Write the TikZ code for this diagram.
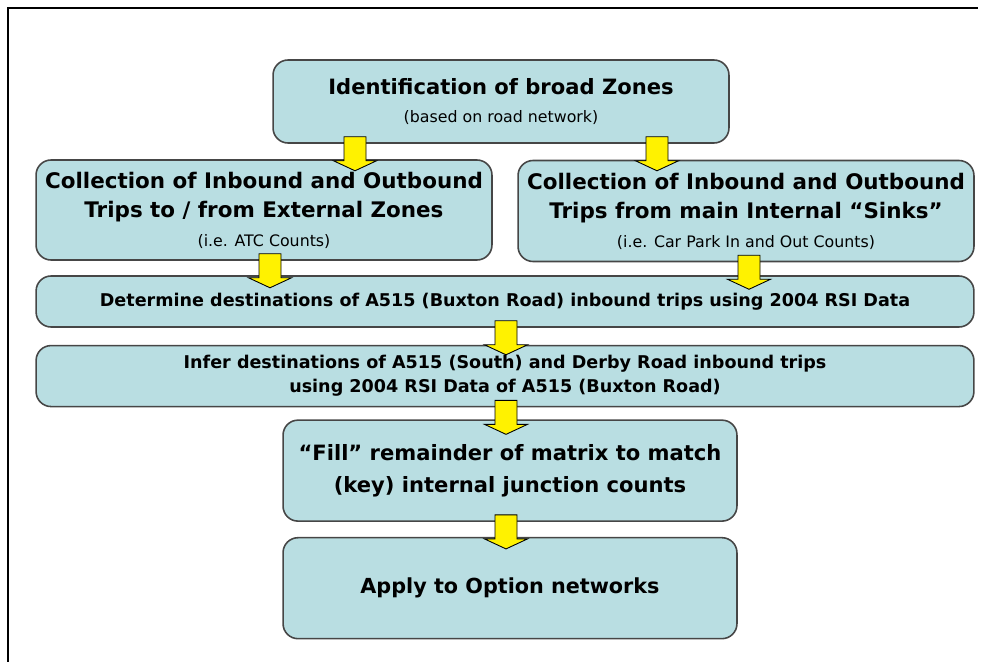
\documentclass[tikz,border=0pt]{standalone}
\usepackage{fontspec}
\setmainfont{DejaVu Sans}
\usetikzlibrary{calc, positioning}
\definecolor{boxfill}{RGB}{185,222,226}
\definecolor{boxline}{RGB}{70,70,70}
\tikzstyle{stage} = [rectangle, draw=boxline, line width=0.9pt, fill=boxfill, rounded corners=0.3cm, text centered, align=center, inner sep=2pt, font=\bfseries\fontsize{12.2}{16.5}\selectfont]
\tikzstyle{half} = [stage, minimum width=9.12cm, minimum height=2.02cm]
\tikzstyle{wide} = [stage, minimum width=18.76cm, font=\bfseries\fontsize{10}{13.5}\selectfont]
\tikzstyle{flow} = [draw=black, line width=0.5pt, fill=yellow]
\newcommand{\note}[1]{{\normalfont\fontsize{9}{11}\selectfont #1}}
% block arrow hanging under a box, shifted sideways by #2 px
\newcommand{\flowarrow}[2]{%
  \path[flow] ($(#1.south)+(#2,0)$) ++(-11,-7) -- ++(0,24) -- ++(-10.5,0) -- ++(21.5,10) -- ++(21.5,-10) -- ++(-10.5,0) -- ++(0,-24) -- cycle;}

\begin{document}
\begin{tikzpicture}[x=0.02cm, y=-0.02cm]
        \useasboundingbox (0,0) rectangle (987,662);
        \draw[line width=1.2pt] (8,662) -- (8,8) -- (978,8);

        \node[half, minimum height=1.66cm, font=\bfseries\fontsize{12}{16}\selectfont] (zones) at (501,101.5) {Identification of broad Zones\\\note{(based on road network)}};

        \node[half, minimum height=2cm] (extin) at (264,210) {Collection of Inbound and Outbound\\Trips to / from External Zones\\\note{(i.e. ATC Counts)}};

        \node[half] (sinks) at (746,211) {Collection of Inbound and Outbound\\Trips from main Internal ``Sinks''\\\note{(i.e. Car Park In and Out Counts)}};

        \node[wide, minimum height=1.02cm] (buxton) at (505,301.5) {Determine destinations of A515 (Buxton Road) inbound trips using 2004 RSI Data};

        \node[wide, minimum height=1.22cm, below=0.34cm of buxton] (infer) {Infer destinations of A515 (South) and Derby Road inbound trips\\using 2004 RSI Data of A515 (Buxton Road)};

        \node[half, minimum width=9.08cm, below=0.24cm of infer, xshift=0.1cm, font=\bfseries\fontsize{12}{18}\selectfont] (fill) {``Fill'' remainder of matrix to match\\(key) internal junction counts};

        \node[half, minimum width=9.08cm, below=0.3cm of fill, font=\bfseries\fontsize{11.8}{16}\selectfont] (apply) {Apply to Option networks};

        \flowarrow{zones}{-146}
        \flowarrow{zones}{156}
        \flowarrow{extin}{6}
        \flowarrow{sinks}{3}
        \flowarrow{buxton}{1}
        \flowarrow{infer}{1}
        \flowarrow{fill}{-4}
    \end{tikzpicture}
\end{document}
